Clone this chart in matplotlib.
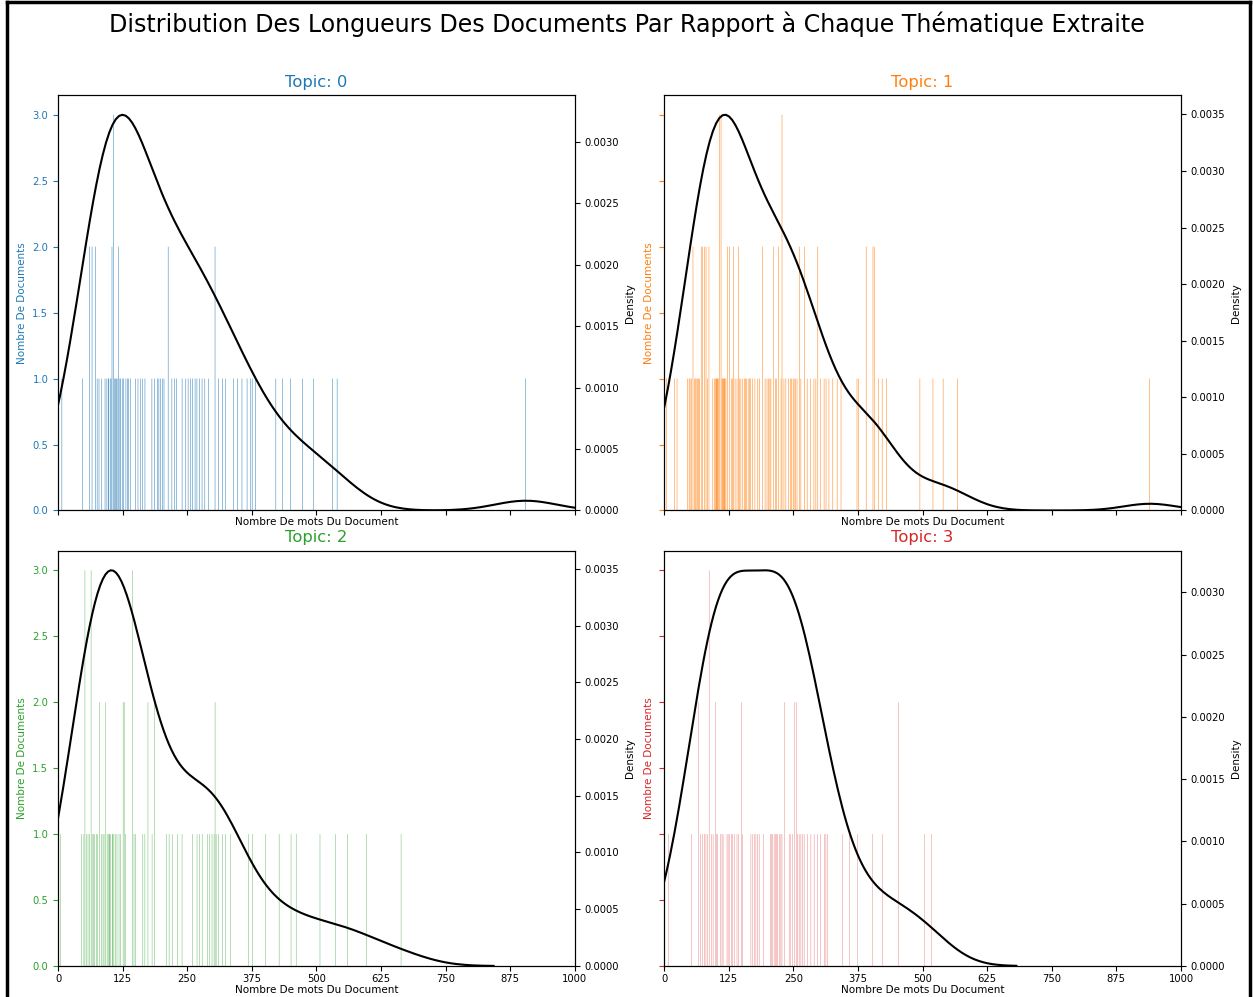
import matplotlib
matplotlib.use('Agg')
import matplotlib.pyplot as plt
import matplotlib.colors as mcolors
import numpy as np
import seaborn as sns
from matplotlib.lines import Line2D

# Document word counts per dominant topic
topic0_lens = [7, 48, 61, 61, 66, 66, 72, 72, 76, 79, 85, 91, 95, 97, 98, 101, 103,
               104, 104, 107, 107, 107, 109, 111, 113, 114, 117, 117, 120, 121,
               124, 127, 131, 134, 137, 140, 150, 155, 160, 164, 168, 182, 187, 192, 195,
               198, 202, 205, 213, 213, 220, 226, 229, 240, 247, 252, 256, 260, 265, 269,
               273, 279, 284, 291, 304, 304, 311, 318, 324, 340, 347, 356, 366, 373, 376,
               382, 421, 434, 450, 473, 494, 531, 540, 905]

topic1_lens = [4, 20, 25, 46, 48, 50, 53, 56, 56, 59, 61, 63, 65, 67, 69, 72, 72, 75, 75,
               78, 78, 81, 81, 84, 87, 87, 94, 98, 99, 101, 102, 103, 104, 106, 107, 107,
               107, 110, 110, 110, 112, 113, 115, 116, 117, 118, 120, 122, 122, 126, 126,
               130, 133, 135, 135, 137, 141, 144, 144, 146, 149, 152, 155, 157, 159, 163,
               165, 167, 171, 176, 181, 185, 191, 191, 195, 199, 202, 205, 207, 212, 212,
               216, 218, 222, 222, 226, 228, 228, 228, 232, 236, 240, 244, 247, 250, 252,
               254, 257, 262, 262, 265, 272, 272, 277, 283, 290, 294, 297, 297, 303, 310,
               313, 319, 326, 335, 342, 373, 376, 391, 391, 404, 404, 407, 407, 414, 422,
               430, 495, 520, 540, 568, 940]

topic2_lens = [5, 45, 50, 52, 52, 52, 55, 58, 61, 64, 64, 64, 66, 69, 71, 74, 76, 80, 80,
               84, 87, 89, 92, 92, 95, 97, 99, 100, 102, 105, 106, 108, 111, 114, 118, 121,
               126, 126, 128, 128, 131, 144, 144, 144, 147, 150, 164, 168, 174, 174, 182,
               187, 187, 210, 215, 221, 231, 240, 260, 269, 274, 279, 289, 293, 298, 302,
               304, 304, 306, 311, 318, 324, 334, 369, 376, 402, 428, 451, 461, 507, 537,
               560, 597, 664]

topic3_lens = [8, 53, 67, 67, 71, 75, 78, 81, 84, 87, 87, 87, 91, 95, 99, 99, 101, 104,
               109, 112, 114, 122, 124, 126, 130, 133, 136, 141, 144, 150, 150, 152,
               168, 171, 175, 178, 181, 184, 193, 205, 208, 210, 213, 216, 218, 220, 223,
               226, 228, 233, 233, 242, 245, 249, 253, 253, 256, 256, 258, 261, 265, 268,
               271, 277, 284, 290, 297, 303, 310, 313, 316, 345, 359, 374, 403, 422, 454,
               454, 504, 517]

topics = [topic0_lens, topic1_lens, topic2_lens, topic3_lens]
topic_titles = ['Topic: 0', 'Topic: 1', 'Topic: 2', 'Topic: 3']
kde_bw_adjust = [1.0, 1.0, 1.0, 1.2]
x_ticks = [0, 125, 250, 375, 500, 625, 750, 875, 1000]

cols = [c for name, c in mcolors.TABLEAU_COLORS.items()]

fig, axes = plt.subplots(2, 2, figsize=(12.53, 9.97), dpi=100, sharex=True, sharey=True)
fig.subplots_adjust(left=0.0463, right=0.9425, top=0.9047, bottom=0.0311,
                    wspace=0.1725, hspace=0.0964)

for i, ax in enumerate(axes.flatten()):
    doc_lens = topics[i]
    ax.hist(doc_lens, bins=1000, color=cols[i], snap=False)
    ax.tick_params(axis='y', labelcolor=cols[i], color=cols[i], labelsize=7.2)
    ax.tick_params(axis='x', labelsize=7.2, pad=2)
    ax2 = ax.twinx()
    sns.kdeplot(doc_lens, color='black', ax=ax2, linewidth=1.5, bw_adjust=kde_bw_adjust[i])
    ax2.tick_params(labelsize=7.2)
    ax2.set_ylabel('Density', fontsize=7.5)
    ax.set_xlim(0, 1000)
    ax.set_xlabel('Nombre De mots Du Document', fontsize=7.5, labelpad=1)
    ax.set_ylabel('Nombre De Documents', color=cols[i], fontsize=7.5)
    ax.set_title(topic_titles[i], fontdict=dict(size=11.8, color=cols[i]))

axes[1, 1].set_xticks(x_ticks)
axes[1, 1].set_xlim(0, 1000)

fig.suptitle('Distribution Des Longueurs Des Documents Par Rapport à Chaque Thématique Extraite',
             fontsize=17.1, y=0.976, va='center')

# frame around the picture (left, top, right)
for xs, ys in [([0.0056, 0.0056], [0.0, 0.998]),
               ([0.0056, 0.9976], [0.998, 0.998]),
               ([0.9976, 0.9976], [0.998, 0.0])]:
    fig.add_artist(Line2D(xs, ys, transform=fig.transFigure, color='black', linewidth=2.5))

fig.savefig('out.png', dpi=100)
